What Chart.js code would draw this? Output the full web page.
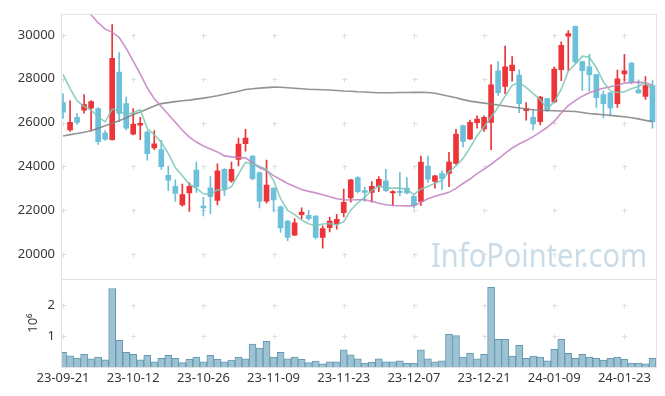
<!DOCTYPE html>
<html>
<head>
<meta charset="utf-8">
<script src="https://cdn.jsdelivr.net/npm/chart.js@4.4.1/dist/chart.umd.min.js"></script>
<style>
  html, body { margin: 0; padding: 0; background: #fff; }
  #stock-chart { display: block; }
</style>
</head>
<body>
<canvas id="stock-chart" width="665" height="396"></canvas>
<script>
"use strict"

// trading days (KRX), one per candle
const dates = [
    "23-09-21", "23-09-22", "23-09-25", "23-09-26", "23-09-27",
    "23-10-04", "23-10-05", "23-10-06", "23-10-10", "23-10-11",
    "23-10-12", "23-10-13", "23-10-16", "23-10-17", "23-10-18",
    "23-10-19", "23-10-20", "23-10-23", "23-10-24", "23-10-25",
    "23-10-26", "23-10-27", "23-10-30", "23-10-31", "23-11-01",
    "23-11-02", "23-11-03", "23-11-06", "23-11-07", "23-11-08",
    "23-11-09", "23-11-10", "23-11-13", "23-11-14", "23-11-15",
    "23-11-16", "23-11-17", "23-11-20", "23-11-21", "23-11-22",
    "23-11-23", "23-11-24", "23-11-27", "23-11-28", "23-11-29",
    "23-11-30", "23-12-01", "23-12-04", "23-12-05", "23-12-06",
    "23-12-07", "23-12-08", "23-12-11", "23-12-12", "23-12-13",
    "23-12-14", "23-12-15", "23-12-18", "23-12-19", "23-12-20",
    "23-12-21", "23-12-22", "23-12-26", "23-12-27", "23-12-28",
    "24-01-02", "24-01-03", "24-01-04", "24-01-05", "24-01-08",
    "24-01-09", "24-01-10", "24-01-11", "24-01-12", "24-01-15",
    "24-01-16", "24-01-17", "24-01-18", "24-01-19", "24-01-22",
    "24-01-23", "24-01-24", "24-01-25", "24-01-26", "24-01-29"
];

const opens = [
    26911, 25666, 26237, 26565, 26655, 26641, 25518, 25216, 28305, 26866,
    25473, 25877, 25563, 24843, 24767, 23598, 23090, 22249, 22789, 23840,
    22190, 23031, 22447, 23870, 23346, 24317, 25037, 24470, 23719, 22415,
    23013, 22159, 21516, 20873, 21800, 21772, 21741, 20765, 21215, 21395,
    21890, 22564, 23494, 22896, 22820, 23090, 23346, 22789, 22865, 23013,
    22640, 22402, 24020, 23315, 23674, 23688, 24137, 25864, 25261, 25998,
    25711, 26012, 28363, 27644, 28363, 28170, 26538, 26237, 26044, 27091,
    26943, 28408, 29937, 30387, 28786, 28543, 28184, 27271, 27361, 26866,
    28215, 28710, 27496, 27195, 27689
];
const highs = [
    27316, 26988, 26417, 27271, 27001, 26680, 25639, 30463, 29191, 27168,
    26641, 26237, 25639, 25639, 25189, 24020, 23391, 23193, 23270, 24200,
    22595, 23539, 24124, 23899, 24200, 25293, 25697, 24497, 23740, 24290,
    23040, 22190, 21547, 21620, 22114, 21997, 21760, 21291, 21696, 21817,
    22968, 23418, 23539, 23045, 23315, 23539, 23868, 22896, 23719, 23494,
    22671, 24470, 24470, 23598, 23796, 24650, 25697, 25891, 26116, 26313,
    26313, 28633, 28786, 29487, 29011, 28408, 26911, 26596, 27195, 27120,
    28543, 29685, 30193, 30400, 28800, 29114, 28200, 27437, 27392, 28395,
    29114, 28730, 27945, 28094, 27914
];
const lows = [
    26192, 25594, 25922, 26430, 25621, 25009, 25189, 25200, 26044, 25666,
    25441, 25216, 24290, 24767, 23868, 22896, 22402, 22190, 21952, 22820,
    21741, 21845, 22249, 22671, 23270, 24020, 24695, 23391, 22114, 22325,
    21952, 20990, 20617, 20850, 21620, 21547, 20693, 20271, 21022, 21143,
    21696, 22370, 22789, 22402, 22370, 22851, 22851, 22222, 22671, 22744,
    22114, 22222, 23270, 23013, 22941, 23076, 24092, 24888, 25216, 25742,
    25594, 24767, 27240, 27316, 27887, 26448, 26116, 25666, 25891, 26493,
    26898, 27914, 28363, 28696, 27464, 27437, 26686, 26223, 26340, 26686,
    27887, 27765, 27330, 27060, 25742
];
const closes = [
    26475, 26012, 26012, 26821, 26956, 25126, 25248, 28934, 26417, 25742,
    25922, 25967, 24587, 25037, 23989, 23373, 22775, 22716, 23090, 23076,
    22114, 22626, 23796, 22968, 23870, 25023, 25293, 23449, 22415, 23148,
    22474, 21201, 20765, 21426, 21921, 21620, 20765, 21170, 21516, 21593,
    22370, 23391, 22851, 22820, 23090, 23418, 22896, 22851, 22820, 22789,
    22222, 24200, 23418, 23571, 23449, 24200, 25473, 25144, 26012, 26160,
    26237, 27721, 27361, 28543, 28620, 26866, 26641, 25936, 27168, 26538,
    28440, 29519, 30058, 28768, 28363, 28184, 27136, 26866, 26673, 27990,
    28363, 27842, 27347, 27689, 26044
];

// moving averages
const ma5 = [
    28200, 27550, 27000, 26730, 26570, 26260, 26033, 26617, 26536, 26370,
    26453, 26596, 25727, 25451, 25100, 24591, 23952, 23578, 23189, 23006,
    22754, 22724, 22940, 22916, 23075, 23657, 24190, 24121, 24010, 23866,
    23356, 22537, 22001, 21803, 21557, 21387, 21299, 21380, 21398, 21333,
    21483, 22008, 22344, 22605, 22904, 23114, 23015, 23015, 23015, 22955,
    22716, 22976, 23090, 23240, 23372, 23768, 24022, 24367, 24856, 25398,
    25805, 26255, 26698, 27204, 27696, 27822, 27606, 27321, 27046, 26630,
    26945, 27520, 28345, 28665, 29030, 28978, 28502, 27863, 27444, 27370,
    27406, 27547, 27643, 27846, 27450
];
const ma20 = [
    32300, 31900, 31500, 31200, 30912, 30553, 30260, 30125, 29880, 29384,
    28800, 28215, 27586, 27090, 26731, 26370, 26012, 25653, 25338, 25113,
    24933, 24798, 24663, 24483, 24438, 24416, 24393, 24169, 23944, 23809,
    23585, 23405, 23225, 23090, 22955, 22865, 22797, 22707, 22617, 22528,
    22483, 22474, 22483, 22483, 22415, 22325, 22258, 22222, 22213, 22204,
    22213, 22370, 22528, 22640, 22730, 22820, 23000, 23225, 23427, 23674,
    23877, 24102, 24349, 24596, 24843, 25023, 25180, 25360, 25563, 25787,
    26057, 26439, 26776, 27001, 27204, 27361, 27473, 27563, 27631, 27698,
    27800, 27824, 27842, 27810, 27698
];
const maLong = [
    25392, 25450, 25504, 25562, 25630, 25742, 25855, 25967, 26080, 26214,
    26372, 26484, 26619, 26754, 26866, 26911, 26956, 26992, 27024, 27069,
    27114, 27168, 27226, 27293, 27361, 27428, 27509, 27541, 27572, 27595,
    27617, 27608, 27586, 27563, 27541, 27518, 27505, 27496, 27482, 27460,
    27437, 27428, 27406, 27392, 27374, 27361, 27361, 27361, 27370, 27374,
    27379, 27383, 27370, 27338, 27271, 27204, 27136, 27046, 26979, 26934,
    26889, 26844, 26799, 26754, 26709, 26664, 26619, 26583, 26560, 26551,
    26538, 26529, 26520, 26507, 26462, 26417, 26385, 26358, 26327, 26295,
    26268, 26223, 26169, 26102, 26044
];

const volumes = [
    470000, 360000, 290000, 410000, 260000, 320000, 230000, 2530000, 860000, 470000,
    410000, 230000, 380000, 170000, 280000, 380000, 280000, 140000, 250000, 320000,
    170000, 380000, 250000, 170000, 220000, 320000, 260000, 740000, 610000, 830000,
    320000, 470000, 260000, 320000, 250000, 140000, 190000, 100000, 165000, 170000,
    550000, 390000, 260000, 130000, 160000, 260000, 170000, 170000, 200000, 130000,
    130000, 550000, 260000, 170000, 200000, 1050000, 1010000, 320000, 450000, 260000,
    410000, 2570000, 890000, 890000, 350000, 700000, 280000, 350000, 320000, 200000,
    570000, 890000, 440000, 280000, 410000, 320000, 280000, 220000, 280000, 320000,
    250000, 130000, 130000, 100000, 280000
];

// tick positions
const dateTickIdx = [0, 10, 20, 30, 40, 50, 60, 70, 80];
const priceTicks = [20000, 22000, 24000, 26000, 28000, 30000];
const volumeTicks = [1000000, 2000000];


const upColor = '#ec3439';
const downColor = '#6cc0d9';
const candleColors = opens.map((o, i) => closes[i] >= o ? upColor : downColor);
const tickFont = { family: "'Noto Sans', sans-serif", size: 13 };
const tickColor = '#383838';

const toPoints = (arr) => arr.map((v, i) => ({ x: i, y: v }));


// light crosses where the grid lines meet, frame and watermark
const chartBackdrop = {
    id: 'chartBackdrop',
    beforeDatasetsDraw(chart) {
        const { ctx, chartArea, scales } = chart;
        ctx.save();

        // watermark
        ctx.font = "32px 'Noto Sans', sans-serif";
        ctx.fillStyle = '#cadce7';
        ctx.textBaseline = 'alphabetic';
        const text = 'InfoPointer.com';
        const w = ctx.measureText(text).width;
        ctx.translate(431, 267);
        ctx.scale(216 / w, 1);
        ctx.fillText(text, 0, 0);
        ctx.setTransform(1, 0, 0, 1, 0, 0);

        // crosses
        ctx.strokeStyle = '#dedede';
        ctx.lineWidth = 1;
        const cross = (px, py) => {
            px = Math.round(px) + 0.5;
            py = Math.round(py) + 0.5;
            ctx.beginPath();
            ctx.moveTo(px - 2, py);
            ctx.lineTo(px + 3, py);
            ctx.moveTo(px, py - 2);
            ctx.lineTo(px, py + 3);
            ctx.stroke();
        };
        scales.x.ticks.forEach(xt => {
            const px = scales.x.getPixelForValue(xt.value);
            scales.y.ticks.forEach(yt => cross(px, scales.y.getPixelForValue(yt.value)));
            scales.yv.ticks.forEach(yt => cross(px, scales.yv.getPixelForValue(yt.value)));
        });

        // frame around both panels
        ctx.strokeStyle = '#e2e2e2';
        ctx.strokeRect(chartArea.left - 0.5, chartArea.top - 0.5,
            chartArea.right - chartArea.left + 1, chartArea.bottom - chartArea.top + 1);
        ctx.beginPath();
        ctx.moveTo(chartArea.left, Math.round(scales.y.bottom) + 0.5);
        ctx.lineTo(chartArea.right, Math.round(scales.y.bottom) + 0.5);
        ctx.stroke();
        ctx.restore();
    }
};


const ctx = document.getElementById('stock-chart');

new Chart(ctx, {
    type: 'bar',
    data: {
        datasets: [
            {
                type: 'line',
                label: 'MA5',
                data: toPoints(ma5),
                borderColor: 'rgba(122, 198, 182, 0.85)',
                borderWidth: 1.6,
                pointRadius: 0,
                yAxisID: 'y',
                order: 0,
            },
            {
                type: 'line',
                label: 'MA20',
                data: toPoints(ma20),
                borderColor: 'rgba(196, 126, 192, 0.85)',
                borderWidth: 1.6,
                pointRadius: 0,
                yAxisID: 'y',
                order: 0,
            },
            {
                type: 'line',
                label: 'MA long',
                data: toPoints(maLong),
                borderColor: 'rgba(128, 128, 128, 0.85)',
                borderWidth: 1.6,
                pointRadius: 0,
                yAxisID: 'y',
                order: 0,
            },
            {
                label: 'body',
                data: opens.map((o, i) => ({ x: i, y: [o, closes[i]] })),
                backgroundColor: candleColors,
                barThickness: 5,
                minBarLength: 1,
                grouped: false,
                yAxisID: 'y',
                order: 1,
            },
            {
                label: 'wick',
                data: lows.map((l, i) => ({ x: i, y: [l, highs[i]] })),
                backgroundColor: candleColors,
                barThickness: 1,
                grouped: false,
                yAxisID: 'y',
                order: 2,
            },
            {
                label: 'volume',
                data: toPoints(volumes),
                backgroundColor: '#9cc2d3',
                borderColor: '#6699b0',
                borderWidth: { top: 1, left: 1, right: 1, bottom: 0 },
                barPercentage: 1,
                categoryPercentage: 1,
                grouped: false,
                yAxisID: 'yv',
                order: 3,
            },
        ]
    },
    options: {
        responsive: false,
        animation: false,
        devicePixelRatio: 1,
        layout: { padding: { top: 10, right: 9, left: 0, bottom: 0 } },
        plugins: {
            legend: { display: false },
            tooltip: { enabled: false },
        },
        scales: {
            x: {
                type: 'linear',
                min: -0.15,
                max: 84.5,
                offset: false,
                grid: { display: false, drawTicks: false, offset: false },
                border: { display: false },
                afterBuildTicks: (s) => { s.ticks = dateTickIdx.map(v => ({ value: v })); },
                afterFit: (s) => { s.height = 29; },
                ticks: {
                    callback: (v) => dates[v],
                    font: tickFont,
                    color: tickColor,
                    padding: 3,
                    autoSkip: false,
                    maxRotation: 0,
                    minRotation: 0,
                },
            },
            // price panel on top of the stack (higher weight is placed first)
            y: {
                type: 'linear',
                position: 'left',
                stack: 'panels',
                stackWeight: 268,
                weight: 2,
                min: 18862,
                max: 30913,
                grid: { display: false, drawTicks: false },
                border: { display: false },
                afterBuildTicks: (s) => { s.ticks = priceTicks.map(v => ({ value: v })); },
                afterFit: (s) => { s.width = 62; },
                ticks: {
                    callback: (v) => String(v),
                    font: tickFont,
                    color: tickColor,
                    padding: 7,
                },
            },
            yv: {
                type: 'linear',
                position: 'left',
                stack: 'panels',
                stackWeight: 89,
                weight: 1,
                min: 0,
                max: 2830000,
                offset: false,
                grid: { display: false, drawTicks: false },
                border: { display: false },
                afterBuildTicks: (s) => { s.ticks = volumeTicks.map(v => ({ value: v })); },
                afterFit: (s) => { s.width = 62; },
                title: {
                    display: true,
                    text: '10⁶',
                    font: tickFont,
                    color: tickColor,
                    padding: { top: 25, bottom: 0 },
                },
                ticks: {
                    callback: (v) => String(v / 1000000),
                    font: tickFont,
                    color: tickColor,
                    padding: 7,
                },
            },
        }
    },
    plugins: [chartBackdrop]
});
</script>
</body>
</html>
